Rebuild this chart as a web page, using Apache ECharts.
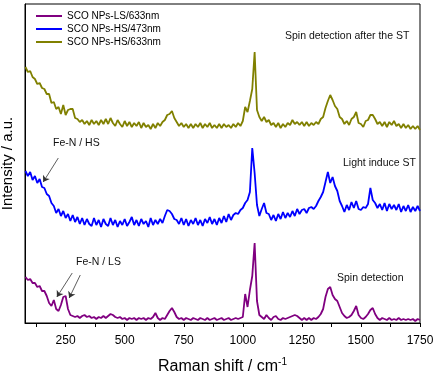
<!DOCTYPE html>
<html>
<head>
<meta charset="utf-8">
<script src="https://cdn.jsdelivr.net/npm/echarts@6/dist/echarts.min.js"></script>
<style>html,body{margin:0;padding:0;background:#fff;}#c{width:438px;height:374px;}</style>
</head>
<body>
<div id="c"></div>
<script>
// Raman shift (cm^-1) sample positions
const shift = [
  80,90,100,110,120,130,140,150,160,170,
  180,190,200,210,220,230,240,250,260,270,
  280,290,300,310,320,330,340,350,360,370,
  380,390,400,410,420,430,440,450,460,470,
  480,490,500,510,520,530,540,550,560,570,
  580,590,600,610,620,630,640,650,660,670,
  680,690,700,710,720,730,740,750,760,770,
  780,790,800,810,820,830,840,850,860,870,
  880,890,900,910,920,930,940,950,960,970,
  980,990,1000,1010,1020,1030,1040,1050,1060,1070,
  1080,1090,1100,1110,1120,1130,1140,1150,1160,1170,
  1180,1190,1200,1210,1220,1230,1240,1250,1260,1270,
  1280,1290,1300,1310,1320,1330,1340,1350,1360,1370,
  1380,1390,1400,1410,1420,1430,1440,1450,1460,1470,
  1480,1490,1500,1510,1520,1530,1540,1550,1560,1570,
  1580,1590,1600,1610,1620,1630,1640,1650,1660,1670,
  1680,1690,1700,1710,1720,1730,1740,1750
];
// SCO NPs-HS/633nm (offset, top trace)
const hs633 = [
  256,251,252,246,244,239,240,235,234,229,
  229,220,221,214,216,209,218,208,213,214,
  214,205,204,201,203,199,202,198,203,199,
  202,198,203,199,204,199,205,200,197,203,
  199,196,202,197,201,196,200,197,201,195,
  200,196,198,194,199,195,200,197,201,203,
  208,209,212,205,201,197,200,196,199,195,
  199,195,199,196,200,195,199,196,200,195,
  198,195,199,195,199,196,198,195,199,196,
  200,197,202,216,211,222,234,271,213,206,
  202,206,201,203,198,200,196,200,195,199,
  196,200,198,203,199,201,198,201,197,201,
  197,200,198,201,199,204,206,215,222,228,
  223,217,214,206,204,199,202,198,204,206,
  211,200,199,196,202,203,208,208,204,199,
  201,197,201,196,201,198,202,197,199,195,
  199,195,198,194,197,194,197,193
];
// SCO NPs-HS/473nm (offset, middle trace)
const hs473 = [
  152,147,151,143,147,140,144,136,135,129,
  127,120,117,110,114,107,112,105,109,102,
  108,101,106,99,105,98,104,99,97,105,
  98,103,96,104,99,97,105,98,103,96,
  102,98,104,97,101,106,98,103,97,104,
  99,102,96,105,98,103,99,104,100,107,
  113,112,109,104,103,99,105,98,104,97,
  103,99,105,98,103,97,104,100,106,99,
  104,98,105,100,107,101,109,103,108,110,
  109,113,115,120,123,131,175,150,118,107,
  114,120,110,109,103,108,102,109,104,111,
  105,110,106,112,107,114,109,113,114,110,
  115,116,114,117,122,126,131,141,151,140,
  146,137,132,122,117,111,118,113,121,115,
  122,114,113,116,115,119,135,123,120,115,
  119,113,120,112,119,114,118,113,119,111,
  117,112,118,111,116,112,117,112
];
// SCO NPs-LS/633nm (bottom trace)
const ls633 = [
  46,43,44,40,40,36,37,32,32,27,
  20,17,23,14,12,18,26,27,14,8,
  7,6,7,5,7,8,6,7,5,6,
  4,6,5,7,5,7,9,8,6,5,
  6,4,5,3,5,4,5,3,5,4,
  5,3,5,4,6,10,5,3,5,4,
  8,12,15,11,6,4,5,3,5,4,
  3,5,4,3,5,4,3,5,3,4,
  5,3,4,5,3,4,5,3,4,5,
  4,5,6,29,16,33,47,80,22,8,
  6,4,8,5,3,6,7,4,3,5,
  4,5,6,7,8,7,5,3,5,3,
  5,3,5,4,6,9,14,26,34,36,
  28,24,22,16,10,7,5,6,8,12,
  17,8,5,4,6,9,13,15,9,5,
  3,5,4,3,5,3,4,3,5,3,
  4,3,4,3,4,2,4,3
];
const seriesNames = ['SCO NPs-LS/633nm', 'SCO NPs-HS/473nm', 'SCO NPs-HS/633nm'];
const labelTicks = [250, 500, 750, 1000, 1250, 1500, 1750];
const tickTicks = [125, 250, 375, 500, 625, 750, 875, 1000, 1125, 1250, 1375, 1500, 1625, 1750];

const zip = arr => shift.map((x, i) => [x, arr[i]]);

const chart = echarts.init(document.getElementById('c'), null, {renderer: 'canvas'});
const font = 'Liberation Sans, Arial, sans-serif';
const arrowLine = {
  silent: true,
  symbol: ['none', 'arrow'],
  symbolSize: 6,
  animation: false,
  label: {show: false},
  lineStyle: {color: '#333', width: 0.8, type: 'solid'},
  data: [
    [{coord: [219, 165]}, {coord: [155, 141]}],
    [{coord: [278, 50]}, {coord: [213, 26]}],
    [{coord: [312, 48]}, {coord: [265, 25]}]
  ]
};
chart.setOption({
  animation: false,
  textStyle: {fontFamily: font},
  grid: {left: 25, right: 18, top: 4, bottom: 51, show: true, borderColor: '#000', borderWidth: 1,
         containLabel: false, outerBoundsMode: 'none'},
  legend: {
    data: seriesNames,
    orient: 'vertical', left: 36, top: 10, padding: 0,
    icon: 'rect', itemWidth: 26, itemHeight: 2, itemGap: 1,
    textStyle: {fontSize: 10, color: '#000', lineHeight: 12, fontFamily: font}
  },
  xAxis: {
    type: 'value', min: 78, max: 1750,
    name: '{a|Raman shift / cm}{b|-1}',
    nameLocation: 'middle', nameGap: 34,
    nameTextStyle: {
      rich: {
        a: {fontSize: 16, color: '#000', fontFamily: font, lineHeight: 20},
        b: {fontSize: 10, color: '#000', fontFamily: font, verticalAlign: 'top', lineHeight: 20}
      }
    },
    axisLine: {lineStyle: {color: '#000', width: 1}},
    axisTick: {show: true, customValues: tickTicks, length: 4, inside: false, lineStyle: {color: '#000'}},
    axisLabel: {customValues: labelTicks, fontSize: 12, color: '#000', margin: 12, fontFamily: font,
                formatter: v => String(v)},
    splitLine: {show: false}
  },
  yAxis: {
    type: 'value', min: 0, max: 319,
    name: 'Intensity / a.u.',
    nameLocation: 'middle', nameGap: 10,
    nameTextStyle: {fontSize: 15, color: '#000', fontFamily: font},
    axisLine: {show: true, lineStyle: {color: '#000', width: 1}},
    axisTick: {show: false}, axisLabel: {show: false}, splitLine: {show: false}
  },
  series: [
    {name: seriesNames[0], type: 'line', data: zip(ls633), symbol: 'none', color: '#800080',
     lineStyle: {width: 1.8}, markLine: arrowLine},
    {name: seriesNames[1], type: 'line', data: zip(hs473), symbol: 'none', color: '#0000ff',
     lineStyle: {width: 1.8}},
    {name: seriesNames[2], type: 'line', data: zip(hs633), symbol: 'none', color: '#808000',
     lineStyle: {width: 1.8}}
  ],
  graphic: [
    {type: 'text', x: 285, y: 36, style: {text: 'Spin detection after the ST', font: '10.5px ' + font, fill: '#111', verticalAlign: 'middle'}},
    {type: 'text', x: 343, y: 163, style: {text: 'Light induce ST', font: '10.5px ' + font, fill: '#111', verticalAlign: 'middle'}},
    {type: 'text', x: 53, y: 143, style: {text: 'Fe-N / HS', font: '10.5px ' + font, fill: '#111', verticalAlign: 'middle'}},
    {type: 'text', x: 76, y: 262, style: {text: 'Fe-N / LS', font: '10.5px ' + font, fill: '#111', verticalAlign: 'middle'}},
    {type: 'text', x: 337, y: 278, style: {text: 'Spin detection', font: '10.5px ' + font, fill: '#111', verticalAlign: 'middle'}}
  ]
});
</script>
</body>
</html>
